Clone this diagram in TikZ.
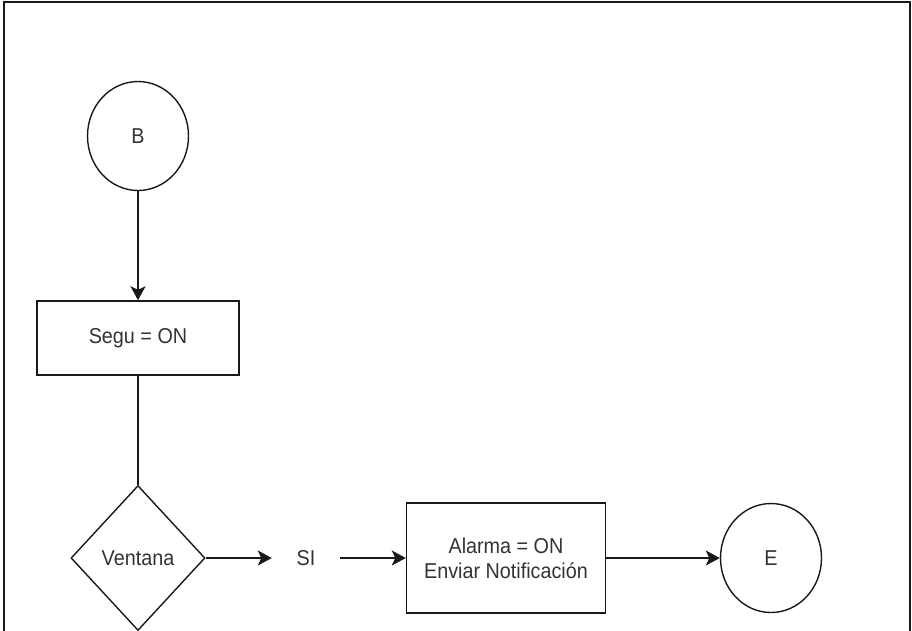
\documentclass[tikz,border=0pt]{standalone}
\usepackage{fontspec}
\setmainfont{Liberation Sans}[FakeStretch=0.92]
\usetikzlibrary{shapes.geometric,arrows.meta}
\definecolor{ink}{RGB}{25,25,25}
\definecolor{txt}{RGB}{51,51,51}
\begin{document}
\begin{tikzpicture}[x=1pt,y=-1pt,
  every node/.style={font=\fontsize{21.5}{25}\selectfont, text=txt},
  line/.style={draw=ink, line width=1.4pt},
  flow/.style={line, -{Stealth[length=14pt,width=15pt,inset=3.5pt]}},
  terminal/.style={line, ellipse, minimum width=101pt, minimum height=109pt, inner sep=0pt},
  procbox/.style={line, rectangle, inner sep=0pt, align=center},
  decision/.style={line, diamond, minimum width=134pt, minimum height=145pt, inner sep=0pt},
  label/.style={inner sep=0pt, minimum width=68pt, minimum height=20pt}]
\useasboundingbox (0,0) rectangle (912,630);
% page frame, open at the bottom
\draw[line] (4,640) -- (4,2) -- (910,2) -- (910,640);

\node[terminal] (b) at (138,136) {B};
\node[procbox, minimum width=202pt, minimum height=74pt] (segu) at (138,338) {Segu = ON};
\node[decision] (ventana) at (138,558) {Ventana};
\node[label] (si) at (306,558) {SI};
\node[procbox, minimum width=199pt, minimum height=110pt] (alarma) at (506,558)
  {Alarma = ON\\Enviar Notificación};
\node[terminal] (e) at (771,558) {E};

\draw[flow] (b) -- (segu);
\draw[line] (segu) -- (ventana);
\draw[flow] (ventana.east) -- (si.west);
\draw[flow] (si.east) -- (alarma.west);
\draw[flow] (alarma.east) -- (e.west);
\end{tikzpicture}
\end{document}
